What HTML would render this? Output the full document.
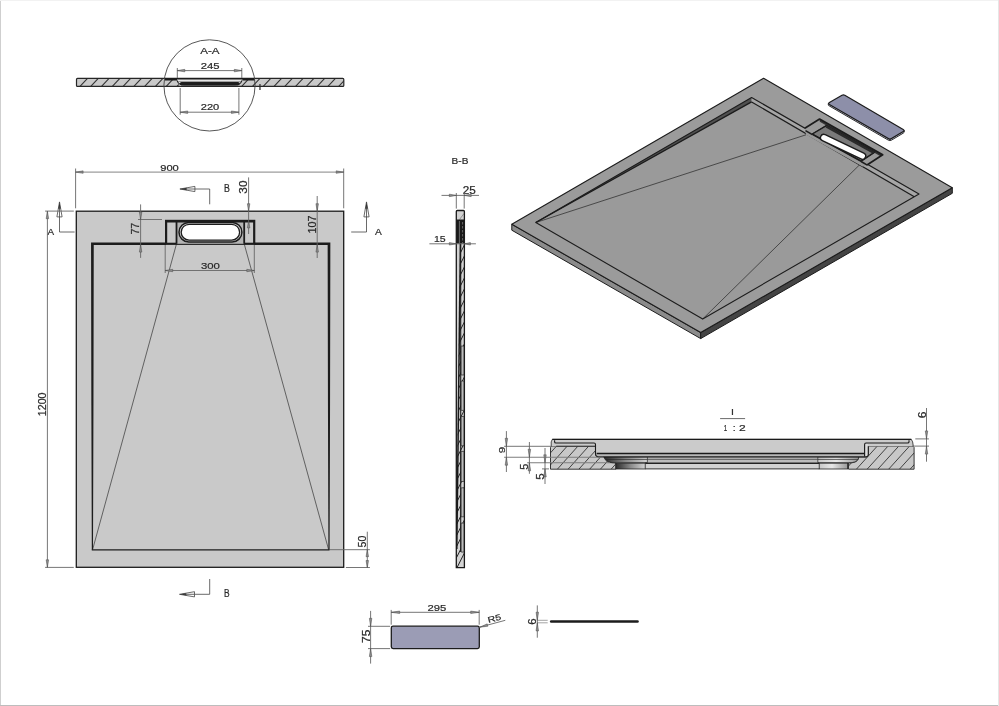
<!DOCTYPE html>
<html><head><meta charset="utf-8"><title>Shower tray drawing</title>
<style>
html,body{margin:0;padding:0;background:#fff;}
body{width:999px;height:706px;overflow:hidden;position:relative;}
svg{position:absolute;left:0;top:0;display:block;will-change:transform;}
svg text{font-family:"Liberation Sans",sans-serif;font-size:10px;stroke:#2a2a2a;stroke-width:0.22px;}
</style></head><body>
<svg width="999" height="706" viewBox="0 0 999 706">
<defs>
<linearGradient id="cyl" x1="0" x2="1" y1="0" y2="0"><stop offset="0" stop-color="#2c2c2c"/><stop offset="0.5" stop-color="#8a8a8a"/><stop offset="1" stop-color="#d4d4d4"/></linearGradient>
<linearGradient id="cylr" x1="0" x2="1" y1="0" y2="0"><stop offset="0" stop-color="#c8c8c8"/><stop offset="0.45" stop-color="#e8e8e8"/><stop offset="1" stop-color="#9a9a9a"/></linearGradient>
</defs>
<rect x="0" y="0" width="1" height="706" fill="#cfcfcf" stroke="none" stroke-width="1" />
<rect x="0" y="705" width="999" height="1" fill="#bdbdbd" stroke="none" stroke-width="1" />
<rect x="0" y="0" width="999" height="1" fill="#f2f2f2" stroke="none" stroke-width="1" />
<rect x="998" y="0" width="1" height="706" fill="#e6e6e6" stroke="none" stroke-width="1" />
<rect x="76.5" y="78.4" width="267.3" height="8" fill="#c9c9c9" stroke="none" stroke-width="1" />
<clipPath id="c1"><path d="M76.5 78.4H343.8V86.4H76.5Z"/></clipPath>
<path d="M80 86.4L87.5 78.4M90.78 86.4L98.28 78.4M101.56 86.4L109.06 78.4M112.34 86.4L119.84 78.4M123.12 86.4L130.62 78.4M133.9 86.4L141.4 78.4M144.68 86.4L152.18 78.4M155.46 86.4L162.96 78.4M166.24 86.4L173.74 78.4M177.02 86.4L184.52 78.4M187.8 86.4L195.3 78.4M198.58 86.4L206.08 78.4M209.36 86.4L216.86 78.4M220.14 86.4L227.64 78.4M230.92 86.4L238.42 78.4M241.7 86.4L249.2 78.4M252.48 86.4L259.98 78.4M263.26 86.4L270.76 78.4M274.04 86.4L281.54 78.4M284.82 86.4L292.32 78.4M295.6 86.4L303.1 78.4M306.38 86.4L313.88 78.4M317.16 86.4L324.66 78.4M327.94 86.4L335.44 78.4M338.72 86.4L346.22 78.4" stroke="#333" stroke-width="1.1" fill="none" clip-path="url(#c1)"/>
<rect x="76.5" y="78.4" width="267.3" height="8" fill="none" stroke="#262626" stroke-width="1.2" rx="1"/>
<path d="M176.5 78.4 L242.5 78.4 L242.5 80 Q241 85.8 236 86 L183 86 Q178 85.8 176.5 80 Z" fill="#e6e6e6" stroke="none" stroke-width="1" />
<path d="M165 78.7 L255 78.7" fill="none" stroke="#1c1c1c" stroke-width="1.4" />
<path d="M165 79.3 L177 79.3 M242.5 79.3 L255 79.3" fill="none" stroke="#1c1c1c" stroke-width="2.2" />
<path d="M177 80.3 Q178.5 85 184 85 L235 85 Q240.5 85 242 80.3" fill="none" stroke="#1c1c1c" stroke-width="1.1" />
<path d="M181.5 83.8 L238 83.8" fill="none" stroke="#1c1c1c" stroke-width="3.4" stroke-linecap="round"/>
<path d="M178 81.6 L241 81.6" fill="none" stroke="#666" stroke-width="0.6" />
<circle cx="209.5" cy="85.4" r="45.6" fill="none" stroke="#444" stroke-width="0.9"/>
<text transform="translate(200.2 53.5) scale(1.159 0.826)" fill="#2a2a2a">A-A</text>
<text transform="translate(200.735 69.314) scale(1.13 0.859)" fill="#2a2a2a">245</text>
<text transform="translate(200.743 110.415) scale(1.114 0.845)" fill="#2a2a2a">220</text>
<text transform="translate(258.553 89.8) scale(1.053 0.826)" fill="#2a2a2a">I</text>
<line x1="177.3" y1="70.6" x2="241.8" y2="70.6" stroke="#666" stroke-width="0.9" />
<line x1="177.3" y1="68" x2="177.3" y2="78" stroke="#666" stroke-width="0.9" />
<line x1="241.8" y1="68" x2="241.8" y2="78" stroke="#666" stroke-width="0.9" />
<polygon points="177.3,70.6 184.8,69.35 184.8,71.85" fill="#8c8c8c" stroke="#4a4a4a" stroke-width="0.5"/>
<polygon points="241.8,70.6 234.3,71.85 234.3,69.35" fill="#8c8c8c" stroke="#4a4a4a" stroke-width="0.5"/>
<line x1="180.2" y1="112.2" x2="238.9" y2="112.2" stroke="#666" stroke-width="0.9" />
<line x1="180.2" y1="88" x2="180.2" y2="114.7" stroke="#666" stroke-width="0.9" />
<line x1="238.9" y1="88" x2="238.9" y2="114.7" stroke="#666" stroke-width="0.9" />
<polygon points="180.2,112.2 187.7,110.95 187.7,113.45" fill="#8c8c8c" stroke="#4a4a4a" stroke-width="0.5"/>
<polygon points="238.9,112.2 231.4,113.45 231.4,110.95" fill="#8c8c8c" stroke="#4a4a4a" stroke-width="0.5"/>
<rect x="76.3" y="211.2" width="267.4" height="356.1" fill="#c9c9c9" stroke="none" stroke-width="1" />
<line x1="176.5" y1="243.8" x2="92.6" y2="549.6" stroke="#333" stroke-width="0.7" />
<line x1="244.2" y1="243.8" x2="328.6" y2="549.6" stroke="#333" stroke-width="0.7" />
<path d="M91.05000000000001 242.5 L166 242.5 L166 245.05 L93.75 245.05 L93.45 405 L93.0 549.8 L91.80000000000001 549.8 L91.35000000000001 405 Z" fill="#1c1c1c" stroke="none" stroke-width="1" />
<path d="M330.35 242.5 L254.3 242.5 L254.3 245.05 L327.65 245.05 L327.95 405 L328.4 549.8 L329.6 549.8 L330.05 405 Z" fill="#1c1c1c" stroke="none" stroke-width="1" />
<line x1="91.8" y1="549.8" x2="329.6" y2="549.8" stroke="#1c1c1c" stroke-width="1.2" />
<rect x="166.1" y="220.9" width="88.1" height="22.9" fill="#c9c9c9" stroke="#1c1c1c" stroke-width="2.2" />
<rect x="176.5" y="220.9" width="67.7" height="22.9" fill="#b4b4b4" stroke="none" stroke-width="1" />
<line x1="176.5" y1="220.9" x2="176.5" y2="243.8" stroke="#1c1c1c" stroke-width="1.8" />
<line x1="244.2" y1="220.9" x2="244.2" y2="243.8" stroke="#1c1c1c" stroke-width="1.8" />
<line x1="166.1" y1="221.2" x2="254.2" y2="221.2" stroke="#1c1c1c" stroke-width="2.4" />
<rect x="179" y="222.4" width="62.9" height="19.6" fill="#d0d0d0" stroke="#1c1c1c" stroke-width="1.5" rx="9.8"/>
<rect x="181.2" y="224.3" width="58.4" height="15.8" fill="#fff" stroke="#1c1c1c" stroke-width="1.3" rx="7.9"/>
<rect x="76.3" y="211.2" width="267.4" height="356.1" fill="none" stroke="#1c1c1c" stroke-width="1.3" />
<text transform="translate(160.197 170.606) scale(1.117 0.944)" fill="#2a2a2a">900</text>
<line x1="75.5" y1="172.1" x2="343.8" y2="172.1" stroke="#777" stroke-width="0.9" />
<line x1="75.6" y1="168.5" x2="75.6" y2="208.3" stroke="#666" stroke-width="0.9" />
<line x1="343.7" y1="168.5" x2="343.7" y2="208.3" stroke="#666" stroke-width="0.9" />
<polygon points="75.6,172.1 83.1,170.85 83.1,173.35" fill="#8c8c8c" stroke="#4a4a4a" stroke-width="0.5"/>
<polygon points="343.7,172.1 336.2,173.35 336.2,170.85" fill="#8c8c8c" stroke="#4a4a4a" stroke-width="0.5"/>
<polygon points="179.9,189 194.9,186.4 194.9,191.6" fill="#fff" stroke="#444" stroke-width="0.8" stroke-linejoin="miter"/>
<polygon points="179.9,189 186.65,187.83 186.65,190.17" fill="#333"/>
<line x1="194.9" y1="189" x2="184.4" y2="189" stroke="#444" stroke-width="0.8" />
<line x1="195" y1="189" x2="209.7" y2="189" stroke="#444" stroke-width="0.8" />
<line x1="209.7" y1="189" x2="209.7" y2="204.3" stroke="#444" stroke-width="0.8" />
<text transform="translate(223.997 191.7) scale(0.879 1)" fill="#2a2a2a">B</text>
<text transform="translate(247.197 193.671) rotate(-90) scale(1.179 1.028)" fill="#2a2a2a">30</text>
<line x1="248.6" y1="177.4" x2="248.6" y2="234" stroke="#666" stroke-width="0.9" />
<polygon points="248.6,211.2 247.35,203.7 249.85,203.7" fill="#8c8c8c" stroke="#4a4a4a" stroke-width="0.5"/>
<polygon points="248.6,220.4 249.85,227.9 247.35,227.9" fill="#8c8c8c" stroke="#4a4a4a" stroke-width="0.5"/>
<text transform="translate(139.4 234.525) rotate(-90) scale(1.05 1.029)" fill="#2a2a2a">77</text>
<line x1="140.6" y1="204.4" x2="140.6" y2="257.9" stroke="#666" stroke-width="0.9" />
<line x1="138" y1="219.5" x2="162" y2="219.5" stroke="#666" stroke-width="0.9" />
<polygon points="140.6,219.5 139.35,212 141.85,212" fill="#8c8c8c" stroke="#4a4a4a" stroke-width="0.5"/>
<polygon points="140.6,244.6 141.85,252.1 139.35,252.1" fill="#8c8c8c" stroke="#4a4a4a" stroke-width="0.5"/>
<text transform="translate(315.697 233.408) rotate(-90) scale(1.078 1.028)" fill="#2a2a2a">107</text>
<line x1="317.2" y1="196" x2="317.2" y2="258" stroke="#666" stroke-width="0.9" />
<polygon points="317.2,211.2 315.95,203.7 318.45,203.7" fill="#8c8c8c" stroke="#4a4a4a" stroke-width="0.5"/>
<polygon points="317.2,244.6 318.45,252.1 315.95,252.1" fill="#8c8c8c" stroke="#4a4a4a" stroke-width="0.5"/>
<text transform="translate(200.945 268.901) scale(1.138 0.986)" fill="#2a2a2a">300</text>
<line x1="165.2" y1="270.5" x2="254.3" y2="270.5" stroke="#666" stroke-width="0.9" />
<line x1="165.2" y1="245" x2="165.2" y2="273" stroke="#666" stroke-width="0.9" />
<line x1="254.3" y1="245" x2="254.3" y2="273" stroke="#666" stroke-width="0.9" />
<polygon points="165.2,270.5 172.7,269.25 172.7,271.75" fill="#8c8c8c" stroke="#4a4a4a" stroke-width="0.5"/>
<polygon points="254.3,270.5 246.8,271.75 246.8,269.25" fill="#8c8c8c" stroke="#4a4a4a" stroke-width="0.5"/>
<polygon points="59.5,201.9 62.1,216.9 56.9,216.9" fill="#fff" stroke="#444" stroke-width="0.8" stroke-linejoin="miter"/>
<polygon points="59.5,201.9 60.67,208.65 58.33,208.65" fill="#333"/>
<line x1="59.5" y1="216.9" x2="59.5" y2="206.4" stroke="#444" stroke-width="0.8" />
<line x1="59.5" y1="216.8" x2="59.5" y2="232" stroke="#444" stroke-width="0.8" />
<line x1="59.5" y1="232" x2="74.6" y2="232" stroke="#444" stroke-width="0.8" />
<text transform="translate(47.4 234.8) scale(0.992 0.957)" fill="#2a2a2a">A</text>
<polygon points="366.5,201.9 369.1,216.9 363.9,216.9" fill="#fff" stroke="#444" stroke-width="0.8" stroke-linejoin="miter"/>
<polygon points="366.5,201.9 367.67,208.65 365.33,208.65" fill="#333"/>
<line x1="366.5" y1="216.9" x2="366.5" y2="206.4" stroke="#444" stroke-width="0.8" />
<line x1="366.5" y1="216.8" x2="366.5" y2="232" stroke="#444" stroke-width="0.8" />
<line x1="351.2" y1="232" x2="366.5" y2="232" stroke="#444" stroke-width="0.8" />
<text transform="translate(375 234.6) scale(1.023 0.928)" fill="#2a2a2a">A</text>
<text transform="translate(46.293 416.201) rotate(-90) scale(1.069 1.07)" fill="#2a2a2a">1200</text>
<line x1="47.4" y1="211.2" x2="47.4" y2="567.3" stroke="#666" stroke-width="0.9" />
<line x1="45.1" y1="211.1" x2="73.8" y2="211.1" stroke="#666" stroke-width="0.9" />
<line x1="45.1" y1="567.4" x2="73.8" y2="567.4" stroke="#666" stroke-width="0.9" />
<polygon points="47.4,211.2 48.65,218.7 46.15,218.7" fill="#8c8c8c" stroke="#4a4a4a" stroke-width="0.5"/>
<polygon points="47.4,567.3 46.15,559.8 48.65,559.8" fill="#8c8c8c" stroke="#4a4a4a" stroke-width="0.5"/>
<text transform="translate(366.193 547.425) rotate(-90) scale(1.063 1.07)" fill="#2a2a2a">50</text>
<line x1="367.3" y1="531.7" x2="367.3" y2="567.8" stroke="#666" stroke-width="0.9" />
<line x1="330" y1="549.7" x2="369.9" y2="549.7" stroke="#666" stroke-width="0.9" />
<line x1="345.9" y1="567.5" x2="369.9" y2="567.5" stroke="#666" stroke-width="0.9" />
<polygon points="367.3,549.7 368.55,556.7 366.05,556.7" fill="#8c8c8c" stroke="#4a4a4a" stroke-width="0.5"/>
<polygon points="367.3,567.5 366.05,560.5 368.55,560.5" fill="#8c8c8c" stroke="#4a4a4a" stroke-width="0.5"/>
<polygon points="179.5,594.3 194.5,591.7 194.5,596.9" fill="#fff" stroke="#444" stroke-width="0.8" stroke-linejoin="miter"/>
<polygon points="179.5,594.3 186.25,593.13 186.25,595.47" fill="#333"/>
<line x1="194.5" y1="594.3" x2="184" y2="594.3" stroke="#444" stroke-width="0.8" />
<line x1="195" y1="594.3" x2="209.7" y2="594.3" stroke="#444" stroke-width="0.8" />
<line x1="209.7" y1="579" x2="209.7" y2="594.3" stroke="#444" stroke-width="0.8" />
<text transform="translate(223.927 597) scale(0.841 1.014)" fill="#2a2a2a">B</text>
<text transform="translate(451.592 164) scale(1.01 0.986)" fill="#2a2a2a">B-B</text>
<text transform="translate(462.812 194.499) scale(1.176 1.014)" fill="#2a2a2a">25</text>
<text transform="translate(434.009 242.411) scale(1.055 0.886)" fill="#2a2a2a">15</text>
<path d="M456.3 211.5 Q456.3 210.5 457.3 210.5 L463.4 210.5 Q464.4 210.5 464.4 211.5 L464.4 567.6 L456.3 567.6 Z" fill="#d2d2d2" stroke="none" stroke-width="1" />
<line x1="459.5" y1="219.5" x2="464" y2="213.5" stroke="#666" stroke-width="0.6" />
<path d="M460.2 243.5 L464.4 243.5 L464.4 567.6 L456.3 567.6 L456.3 549 Z" fill="#d4d4d4" stroke="none" stroke-width="1" />
<clipPath id="c2"><path d="M460.2 243.5 L464.4 243.5 L464.4 567.6 L456.3 567.6 L456.3 549 Z"/></clipPath>
<path d="M456.3 250L464.4 234M456.3 261L464.4 245M456.3 272L464.4 256M456.3 283L464.4 267M456.3 294L464.4 278M456.3 305L464.4 289M456.3 316L464.4 300M456.3 327L464.4 311M456.3 338L464.4 322M456.3 349L464.4 333M456.3 360L464.4 344M456.3 371L464.4 355M456.3 382L464.4 366M456.3 393L464.4 377M456.3 404L464.4 388M456.3 415L464.4 399M456.3 426L464.4 410M456.3 437L464.4 421M456.3 448L464.4 432M456.3 459L464.4 443M456.3 470L464.4 454M456.3 481L464.4 465M456.3 492L464.4 476M456.3 503L464.4 487M456.3 514L464.4 498M456.3 525L464.4 509M456.3 536L464.4 520M456.3 547L464.4 531M456.3 558L464.4 542M456.3 569L464.4 553" stroke="#222" stroke-width="1.0" fill="none" clip-path="url(#c2)"/>
<rect x="460.9" y="346" width="3.3" height="29" fill="#bcbcbc" stroke="#222" stroke-width="0.7" rx="0.8"/>
<rect x="460.9" y="381" width="3.3" height="29.4" fill="#bcbcbc" stroke="#222" stroke-width="0.7" rx="0.8"/>
<rect x="460.9" y="416.5" width="3.3" height="29.3" fill="#bcbcbc" stroke="#222" stroke-width="0.7" rx="0.8"/>
<rect x="460.9" y="451.4" width="3.3" height="30.1" fill="#bcbcbc" stroke="#222" stroke-width="0.7" rx="0.8"/>
<rect x="460.9" y="487.8" width="3.3" height="29" fill="#bcbcbc" stroke="#222" stroke-width="0.7" rx="0.8"/>
<rect x="460.9" y="523.1" width="3.3" height="29" fill="#bcbcbc" stroke="#222" stroke-width="0.7" rx="0.8"/>
<line x1="460.4" y1="243.5" x2="456.8" y2="549" stroke="#1a1a1a" stroke-width="1.5" />
<line x1="460.7" y1="243.5" x2="460.7" y2="552" stroke="#1a1a1a" stroke-width="1.1" />
<rect x="456.6" y="219.5" width="7.5" height="24" fill="#1a1a1a" stroke="none" stroke-width="1" />
<line x1="459.4" y1="221" x2="459.4" y2="243" stroke="#bbb" stroke-width="0.5" />
<line x1="462.6" y1="222" x2="462.6" y2="243" stroke="#999" stroke-width="0.6" stroke-dasharray="2.5 1.5"/>
<path d="M456.3 211.5 Q456.3 210.5 457.3 210.5 L463.4 210.5 Q464.4 210.5 464.4 211.5 L464.4 567.6 L456.3 567.6 Z" fill="none" stroke="#1a1a1a" stroke-width="1.3" />
<line x1="441.5" y1="195.4" x2="479" y2="195.4" stroke="#666" stroke-width="0.9" />
<line x1="456.3" y1="193" x2="456.3" y2="208.6" stroke="#666" stroke-width="0.9" />
<line x1="464.2" y1="193" x2="464.2" y2="208.6" stroke="#666" stroke-width="0.9" />
<polygon points="456.3,195.4 449.3,196.65 449.3,194.15" fill="#8c8c8c" stroke="#4a4a4a" stroke-width="0.5"/>
<polygon points="464.2,195.4 471.2,194.15 471.2,196.65" fill="#8c8c8c" stroke="#4a4a4a" stroke-width="0.5"/>
<line x1="429.4" y1="243.8" x2="475.9" y2="243.8" stroke="#666" stroke-width="0.9" />
<polygon points="456.3,243.8 449.3,245.05 449.3,242.55" fill="#8c8c8c" stroke="#4a4a4a" stroke-width="0.5"/>
<polygon points="464.4,243.8 470.4,242.55 470.4,245.05" fill="#8c8c8c" stroke="#4a4a4a" stroke-width="0.5"/>
<polygon points="511.8,224.2 700.7,332.6 700.7,338.6 511.8,230.2" fill="#8b8b8b" stroke="#1c1c1c" stroke-width="1" />
<polygon points="700.7,332.6 952.3,187.8 952.3,193.3 700.7,338.6" fill="#444" stroke="#1c1c1c" stroke-width="1" />
<polygon points="511.8,224.2 763.6,78.2 952.3,187.8 700.7,332.6" fill="#9b9b9b" stroke="#1c1c1c" stroke-width="1.1" stroke-linejoin="round"/>
<polygon points="535.8,222.5 751.6,97.5 919,194 702.7,319" fill="#9a9a9a" stroke="none" stroke-width="1" />
<polygon points="535.8,222.5 751.6,97.5 751.6,101.9" fill="#505050" stroke="none" stroke-width="1" />
<polygon points="751.6,97.5 919,194 914.3,196.8 751.6,101.9" fill="#a6a6a6" stroke="none" stroke-width="1" />
<line x1="535.8" y1="222.5" x2="806" y2="134.8" stroke="#333" stroke-width="0.8" />
<line x1="702.7" y1="319" x2="860.2" y2="164.2" stroke="#333" stroke-width="0.8" />
<line x1="535.8" y1="222.5" x2="751.6" y2="101.9" stroke="#1c1c1c" stroke-width="1.3" />
<line x1="751.6" y1="101.9" x2="914.3" y2="196.8" stroke="#1c1c1c" stroke-width="1.2" />
<polygon points="535.8,222.5 751.6,97.5 919,194 702.7,319" fill="none" stroke="#1c1c1c" stroke-width="1.1" stroke-linejoin="round"/>
<polygon points="804.8,128.2 819.6,119 882.7,154.8 867,165 862.5,166.5 806,134.8" fill="#9a9a9a" stroke="none" stroke-width="1" />
<polygon points="819.6,119 882.7,154.8 880.5,156.2 819.8,121.7" fill="#333" stroke="none" stroke-width="1" />
<path d="M804.8 128.2 L819.6 119 L882.7 154.8 L867 165" fill="none" stroke="#1c1c1c" stroke-width="1.7" stroke-linejoin="round"/>
<line x1="812.4" y1="134.1" x2="826.8" y2="125.5" stroke="#1c1c1c" stroke-width="1.6" />
<line x1="861.1" y1="161.1" x2="874.6" y2="152.1" stroke="#1c1c1c" stroke-width="1.6" />
<line x1="805.5" y1="130.6" x2="812.4" y2="134.6" stroke="#1c1c1c" stroke-width="1.6" />
<line x1="861.1" y1="161.5" x2="867.3" y2="165.1" stroke="#1c1c1c" stroke-width="1.6" />
<path d="M812.4 134.1 L826.8 125.5 L874.6 152.1 L861.1 161.1 Z" fill="#7a7a7a" stroke="#1c1c1c" stroke-width="1.2" stroke-linejoin="round"/>
<polygon points="826.8,125.5 874.6,152.1 872.6,153.6 825.6,127.6" fill="#2a2a2a" stroke="none" stroke-width="1" />
<line x1="812.4" y1="134.3" x2="861.1" y2="161.3" stroke="#1c1c1c" stroke-width="1.5" />
<line x1="823.8" y1="137.6" x2="862.4" y2="156" stroke="#1c1c1c" stroke-width="8.0" stroke-linecap="round"/>
<line x1="823.8" y1="137.6" x2="862.4" y2="156" stroke="#fff" stroke-width="5.2" stroke-linecap="round"/>
<path d="M828.3 103.4 L828.3 104.9 Q828.4 105.6 829.4 106 L888.4 140.2 Q889.9 141 891.4 140.2 L903.2 133.2 Q904.4 132.4 904.4 131.6 L904.4 130.6 L889.9 139.5 Z" fill="#c3c5d8" stroke="#1c1c1c" stroke-width="0.9" stroke-linejoin="round"/>
<path d="M829.4 102.4 L842 95.2 Q843.4 94.4 844.8 95.2 L903.2 129.6 Q904.8 130.6 903.2 131.6 L891.4 138.6 Q889.9 139.5 888.4 138.6 L829.4 104.4 Q827.8 103.4 829.4 102.4 Z" fill="#8d8fa9" stroke="#1c1c1c" stroke-width="1.2" />
<text transform="translate(730.903 414.5) scale(1.053 0.841)" fill="#2a2a2a">I</text>
<line x1="720.1" y1="418.6" x2="745.1" y2="418.6" stroke="#444" stroke-width="0.8" />
<text transform="translate(723.834 430.7) scale(0.621 0.913)" fill="#2a2a2a">1</text>
<text transform="translate(732.653 430.7) scale(1.053 0.906)" fill="#2a2a2a">:</text>
<text transform="translate(738.996 430.7) scale(1.209 0.9)" fill="#2a2a2a">2</text>
<rect x="598" y="453.5" width="268" height="15.4" fill="#d2d2d2" stroke="none" stroke-width="1" />
<rect x="598" y="454.2" width="267" height="2.5" fill="#b6b6b6" stroke="none" stroke-width="1" />
<rect x="647.4" y="457.3" width="170.4" height="1.6" fill="#dadada" stroke="none" stroke-width="1" />
<rect x="647.4" y="459.6" width="170.4" height="3" fill="#bcbcbc" stroke="none" stroke-width="1" />
<rect x="645" y="463.9" width="175" height="4.6" fill="#d2d2d2" stroke="none" stroke-width="1" />
<path d="M550.5 447.5 Q550.5 446.2 552 446.2 L595.5 446.2 L595.5 454 Q595.8 456.8 598.5 456.8 L604.3 456.8 Q605 461.6 610 462.6 L615.9 463 L615.9 469.2 L550.5 469.2 Z" fill="#c8c8c8" stroke="none" stroke-width="1" />
<clipPath id="c3"><path d="M550.5 447.5 Q550.5 446.2 552 446.2 L595.5 446.2 L595.5 454 Q595.8 456.8 598.5 456.8 L604.3 456.8 Q605 461.6 610 462.6 L615.9 463 L615.9 469.2 L550.5 469.2 Z"/></clipPath>
<path d="M535.9 469.2L556.4 446.2M546.65 469.2L567.15 446.2M557.4 469.2L577.9 446.2M568.15 469.2L588.65 446.2M578.9 469.2L599.4 446.2M589.65 469.2L610.15 446.2M600.4 469.2L620.9 446.2M611.15 469.2L631.65 446.2M621.9 469.2L642.4 446.2" stroke="#333" stroke-width="0.9" fill="none" clip-path="url(#c3)"/>
<path d="M550.5 447.5 Q550.5 446.2 552 446.2 L595.5 446.2 L595.5 454 Q595.8 456.8 598.5 456.8 L604.3 456.8 Q605 461.6 610 462.6 L615.9 463 L615.9 469.2 L550.5 469.2 Z" fill="none" stroke="#222" stroke-width="0.9" />
<path d="M914.1 447.5 L913 446.2 L868.3 446.2 L868.3 454.5 Q868 456.9 866 456.9 L858.7 456.9 Q858.6 461.5 853 462.6 L848.5 463 L848.5 469.2 L914.1 469.2 Z" fill="#c8c8c8" stroke="none" stroke-width="1" />
<clipPath id="c4"><path d="M914.1 447.5 L913 446.2 L868.3 446.2 L868.3 454.5 Q868 456.9 866 456.9 L858.7 456.9 Q858.6 461.5 853 462.6 L848.5 463 L848.5 469.2 L914.1 469.2 Z"/></clipPath>
<path d="M834.9 469.2L855.7 446.2M845.65 469.2L866.45 446.2M856.4 469.2L877.2 446.2M867.15 469.2L887.95 446.2M877.9 469.2L898.7 446.2M888.65 469.2L909.45 446.2M899.4 469.2L920.2 446.2M910.15 469.2L930.95 446.2M920.9 469.2L941.7 446.2" stroke="#333" stroke-width="0.9" fill="none" clip-path="url(#c4)"/>
<path d="M914.1 447.5 L913 446.2 L868.3 446.2 L868.3 454.5 Q868 456.9 866 456.9 L858.7 456.9 Q858.6 461.5 853 462.6 L848.5 463 L848.5 469.2 L914.1 469.2 Z" fill="none" stroke="#222" stroke-width="0.9" />
<path d="M604.3 456.9 L647.4 456.9 L647.4 462.6 L612 462.6 Q605.5 461.5 604.3 456.9 Z" fill="url(#cyl)" stroke="#222" stroke-width="0.7" />
<line x1="606" y1="459.4" x2="647.4" y2="459.4" stroke="#222" stroke-width="0.7" />
<rect x="615.9" y="463.2" width="29.3" height="5.8" fill="url(#cyl)" stroke="#222" stroke-width="0.8" />
<path d="M817.8 456.9 L858.7 456.9 Q858.6 461.5 852 462.6 L817.8 462.6 Z" fill="url(#cylr)" stroke="#222" stroke-width="0.7" />
<line x1="817.8" y1="459.4" x2="858" y2="459.4" stroke="#222" stroke-width="0.7" />
<rect x="819.2" y="463.2" width="28.4" height="5.8" fill="url(#cylr)" stroke="#222" stroke-width="0.8" />
<line x1="647.4" y1="456.9" x2="817.8" y2="456.9" stroke="#555" stroke-width="0.8" />
<line x1="647.4" y1="459.2" x2="817.8" y2="459.2" stroke="#333" stroke-width="0.9" />
<line x1="645.2" y1="463.2" x2="819.2" y2="463.2" stroke="#222" stroke-width="1.4" />
<line x1="645.2" y1="468.9" x2="819.2" y2="468.9" stroke="#333" stroke-width="1.0" />
<path d="M551.2 446.2 Q550.6 441 552.3 439.4 L911.3 439.4 Q913 441 913.3 446.2 L868.3 446.2 L868.3 454.5 Q868 456.9 866 456.9 L598.5 456.9 Q595.8 456.8 595.5 454 L595.5 446.2 Z" fill="#cbcbcb" stroke="none" stroke-width="1" />
<rect x="597" y="454.2" width="268" height="2.3" fill="#b8b8b8" stroke="none" stroke-width="1" />
<rect x="865.2" y="444" width="2.6" height="12" fill="#dcdcdc" stroke="none" stroke-width="1" />
<path d="M551.2 446.2 Q550.6 441 552.3 439.4 L911.3 439.4 Q913 441 913.3 446.2" fill="none" stroke="#222" stroke-width="0.8" />
<line x1="552.3" y1="439.4" x2="911.3" y2="439.4" stroke="#1a1a1a" stroke-width="1.3" />
<path d="M554.6 440.2 L554.6 442 Q554.6 443 556 443 L594 443 Q595.5 443 595.5 444.5 L595.5 454 Q595.8 456.9 598.5 456.9 L866 456.9 Q868 456.9 868.3 454.5 L868.3 446.2" fill="none" stroke="#1a1a1a" stroke-width="1.1" />
<path d="M909 440.2 L909 442 Q909 443 907.5 443 L866 443 Q864.6 443 864.6 444.5 L864.6 456.4" fill="none" stroke="#1a1a1a" stroke-width="1.1" />
<line x1="596.6" y1="453.5" x2="864.6" y2="453.5" stroke="#1a1a1a" stroke-width="1.4" />
<line x1="556.2" y1="446.2" x2="595.5" y2="446.2" stroke="#222" stroke-width="0.9" />
<text transform="translate(504.806 453.223) rotate(-90) scale(1.161 0.944)" fill="#2a2a2a">9</text>
<line x1="506.4" y1="431.1" x2="506.4" y2="472" stroke="#666" stroke-width="0.9" />
<line x1="504.1" y1="446.3" x2="552" y2="446.3" stroke="#666" stroke-width="0.9" />
<line x1="504.1" y1="457.2" x2="603" y2="457.2" stroke="#7c7c7c" stroke-width="1.1" />
<polygon points="506.4,446.3 505.15,438.3 507.65,438.3" fill="#8c8c8c" stroke="#4a4a4a" stroke-width="0.5"/>
<polygon points="506.4,457.2 507.65,465.2 505.15,465.2" fill="#8c8c8c" stroke="#4a4a4a" stroke-width="0.5"/>
<text transform="translate(528.097 469.738) rotate(-90) scale(1.095 1.029)" fill="#2a2a2a">5</text>
<line x1="529.4" y1="442" x2="529.4" y2="473.8" stroke="#666" stroke-width="0.9" />
<line x1="527.2" y1="462.8" x2="610" y2="462.8" stroke="#7c7c7c" stroke-width="1.1" />
<polygon points="529.4,457.2 528.15,449.2 530.65,449.2" fill="#8c8c8c" stroke="#4a4a4a" stroke-width="0.5"/>
<polygon points="529.4,462.8 530.65,470.8 528.15,470.8" fill="#8c8c8c" stroke="#4a4a4a" stroke-width="0.5"/>
<text transform="translate(543.993 479.763) rotate(-90) scale(1.158 1.071)" fill="#2a2a2a">5</text>
<line x1="545" y1="448" x2="545" y2="484" stroke="#666" stroke-width="0.9" />
<line x1="542" y1="468.9" x2="549" y2="468.9" stroke="#666" stroke-width="0.9" />
<polygon points="545,462.8 543.75,454.8 546.25,454.8" fill="#8c8c8c" stroke="#4a4a4a" stroke-width="0.5"/>
<polygon points="545,468.9 546.25,476.9 543.75,476.9" fill="#8c8c8c" stroke="#4a4a4a" stroke-width="0.5"/>
<text transform="translate(925.594 418.202) rotate(-90) scale(1.204 1.056)" fill="#2a2a2a">6</text>
<line x1="926.5" y1="408" x2="926.5" y2="461.7" stroke="#666" stroke-width="0.9" />
<line x1="915.3" y1="438.9" x2="928.9" y2="438.9" stroke="#666" stroke-width="0.9" />
<line x1="912" y1="446.1" x2="929" y2="446.1" stroke="#666" stroke-width="0.9" />
<polygon points="926.5,438.9 925.25,430.9 927.75,430.9" fill="#8c8c8c" stroke="#4a4a4a" stroke-width="0.5"/>
<polygon points="926.5,446.1 927.75,454.1 925.25,454.1" fill="#8c8c8c" stroke="#4a4a4a" stroke-width="0.5"/>
<rect x="391.3" y="626.2" width="88" height="22.4" fill="#9b9cb5" stroke="#1c1c1c" stroke-width="1.3" rx="1.8"/>
<text transform="translate(427.435 611.304) scale(1.13 0.958)" fill="#2a2a2a">295</text>
<line x1="391.2" y1="612.3" x2="479.2" y2="612.3" stroke="#666" stroke-width="0.9" />
<line x1="391.2" y1="609.9" x2="391.2" y2="624.7" stroke="#666" stroke-width="0.9" />
<line x1="479.2" y1="609.9" x2="479.2" y2="624.7" stroke="#666" stroke-width="0.9" />
<polygon points="391.2,612.3 399.7,611.05 399.7,613.55" fill="#8c8c8c" stroke="#4a4a4a" stroke-width="0.5"/>
<polygon points="479.2,612.3 470.7,613.55 470.7,611.05" fill="#8c8c8c" stroke="#4a4a4a" stroke-width="0.5"/>
<text transform="translate(369.786 642.998) rotate(-90) scale(1.196 1.143)" fill="#2a2a2a">75</text>
<line x1="370.6" y1="610.9" x2="370.6" y2="663.6" stroke="#666" stroke-width="0.9" />
<line x1="368" y1="626.3" x2="390.2" y2="626.3" stroke="#666" stroke-width="0.9" />
<line x1="368" y1="648.6" x2="390.2" y2="648.6" stroke="#666" stroke-width="0.9" />
<polygon points="370.6,626.3 369.35,618.3 371.85,618.3" fill="#8c8c8c" stroke="#4a4a4a" stroke-width="0.5"/>
<polygon points="370.6,648.6 371.85,656.6 369.35,656.6" fill="#8c8c8c" stroke="#4a4a4a" stroke-width="0.5"/>
<line x1="479.6" y1="627.2" x2="505.3" y2="620.3" stroke="#666" stroke-width="0.9" />
<polygon points="479.8,627.15 487.202,623.868 487.85,626.283" fill="#8c8c8c" stroke="#4a4a4a" stroke-width="0.5"/>
<text transform="translate(489.3 622.9) rotate(-15) scale(1.074 0.826) translate(-0.8 0)" fill="#2a2a2a">R5</text>
<line x1="551.2" y1="621.5" x2="637.5" y2="621.5" stroke="#1c1c1c" stroke-width="2.6" stroke-linecap="round"/>
<text transform="translate(536.194 624.87) rotate(-90) scale(1.14 1.056)" fill="#2a2a2a">6</text>
<line x1="537.3" y1="605.4" x2="537.3" y2="637.7" stroke="#666" stroke-width="0.9" />
<line x1="537" y1="620.3" x2="547.7" y2="620.3" stroke="#666" stroke-width="0.6" />
<line x1="537" y1="622.8" x2="547.7" y2="622.8" stroke="#666" stroke-width="0.6" />
<polygon points="537.3,620.2 536.05,612.2 538.55,612.2" fill="#8c8c8c" stroke="#4a4a4a" stroke-width="0.5"/>
<polygon points="537.3,622.9 538.55,630.9 536.05,630.9" fill="#8c8c8c" stroke="#4a4a4a" stroke-width="0.5"/>
</svg>
</body></html>
